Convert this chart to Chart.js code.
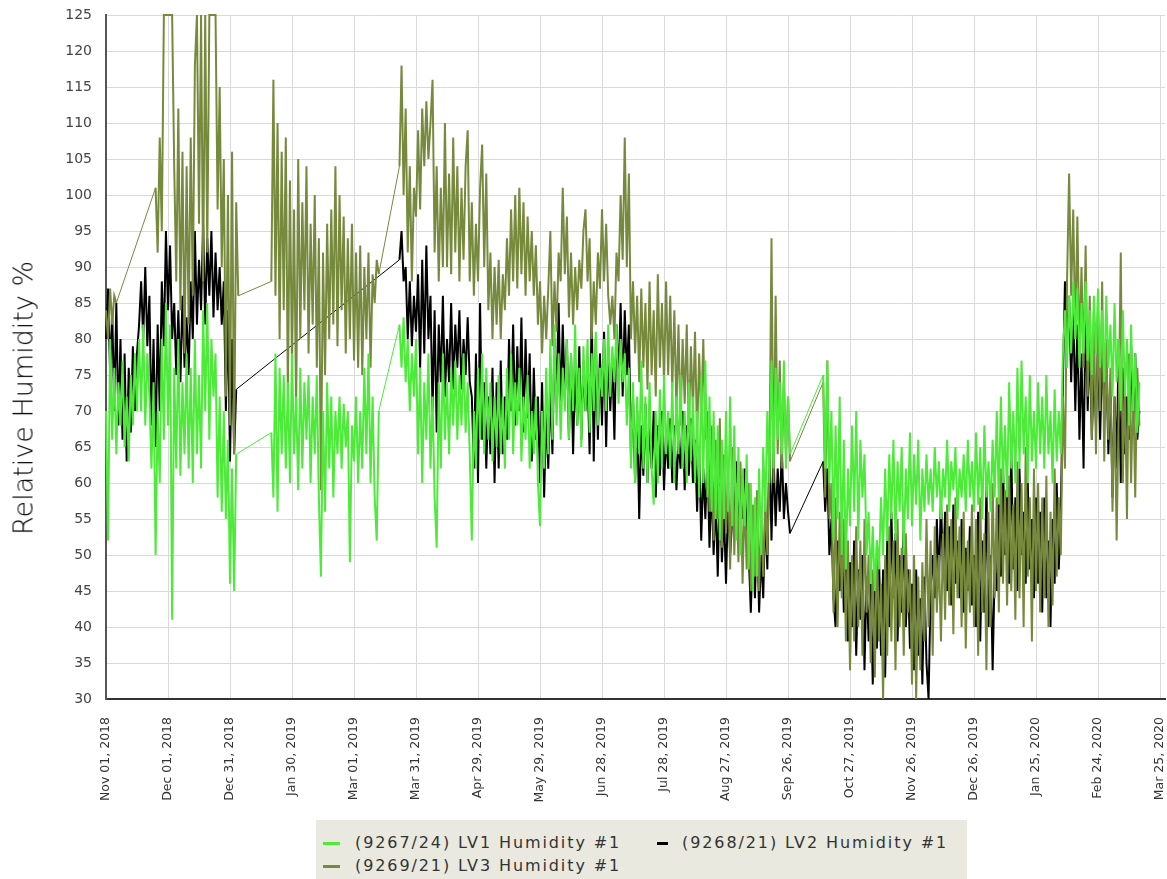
<!DOCTYPE html>
<html>
<head>
<meta charset="utf-8">
<script src="https://cdn.jsdelivr.net/npm/chart.js@4.4.0/dist/chart.umd.min.js"></script>
<style>
  html, body { margin: 0; padding: 0; background: #fff; }
  #wrap { position: relative; width: 1167px; height: 879px; }
  #yTitle {
    position: absolute; left: 23px; top: 398px;
    transform: translate(-50%, -50%) rotate(-90deg);
    font: 300 27px 'DejaVu Sans', sans-serif; color: #000; white-space: nowrap;
  }
  #legend {
    position: absolute; left: 316px; top: 820px; width: 651px; height: 59px;
    background: #e9e9df; font: 16px 'DejaVu Sans', sans-serif; color: #333;
  }
  .dash { position: absolute; height: 3px; }
  .lbl { position: absolute; white-space: nowrap; letter-spacing: 1.9px; line-height: 18px; }
</style>
</head>
<body>
<div id="wrap">
  <canvas id="myChart"></canvas>
  <div id="yTitle">Relative Humidity %</div>
  <div id="legend"></div>
</div>
<script>
// tick labels, one every 30 days from Nov 01, 2018
const tickLabels = ['Nov 01, 2018', 'Dec 01, 2018', 'Dec 31, 2018', 'Jan 30, 2019', 'Mar 01, 2019',
  'Mar 31, 2019', 'Apr 29, 2019', 'May 29, 2019', 'Jun 28, 2019', 'Jul 28, 2019', 'Aug 27, 2019',
  'Sep 26, 2019', 'Oct 27, 2019', 'Nov 26, 2019', 'Dec 26, 2019', 'Jan 25, 2020', 'Feb 24, 2020', 'Mar 25, 2020'];

const seriesNames = ['(9267/24) LV1 Humidity #1', '(9268/21) LV2 Humidity #1', '(9269/21) LV3 Humidity #1'];

// data comes in runs of daily readings; a run starts at the given day (days since Nov 01, 2018)
const lv1Starts = [0, 80, 142, 347];
const lv1A = [70,52,80,66,76,64,74,68,77,65, 72,63,75,68,78,70,80,70,82,68, 78,72,62,74,50,70,60,80,66,85,
  68,82,41,76,62,80,61,74,64,78, 62,76,60,80,64,75,62,84,70,85, 66,80,72,78,58,72,56,70,55,66, 46,62,45,64];
const lv1B = [67,58,78,56,76,64,75,62,74,60, 78,64,72,59,76,62,74,66,75,60, 72,64,75,58,47,70,56,74,62,72,
  58,70,64,72,62,71,65,70,49,68, 63,72,60,70,62,76,64,78,60,72, 58,52,70];
const lv1C = [82,76,83,74,80,70,78,72,80,64, 76,60,74,66,78,62,72,58,51,74, 62,78,66,74,64,76,68,77,66,75,
  68,78,67,74,64,52,70,62,76,66, 78,64,76,66,74,63,72,65,75,64, 72,62,76,66,78,64,74,68,76,63,
  72,66,75,62,70,64,72,60,54,70, 62,76,64,80,66,82,68,78,66,76, 70,80,66,78,70,82,68,76,65,79,
  70,80,67,78,70,81,68,76,72,80, 70,82,72,79,74,82,71,80,74,78, 68,76,62,74,60,72,64,77,62,72,
  60,74,62,57,70,60,73,62,75,64, 70,62,74,60,72,64,75,62,70,60, 74,63,72,60,70,58,75,60,77,58,
  72,56,70,55,68,52,66,55,70,56, 72,54,68,52,65,50,62,54,64,48, 60,45,58,47,62,50,65,56,70,60,
  77,62,76,66,74,64,77,62,72,64];
const lv1D = [75,62,77,60,70,52,68,55,72,50, 66,48,62,54,68,56,70,52,66,58, 64,50,56,46,54,45,52,48,58,50,
  62,52,64,55,66,52,63,56,65,50, 62,55,67,54,64,57,66,52,62,56, 64,57,62,56,65,58,63,55,62,58,
  66,56,63,59,65,55,62,58,64,56, 66,58,63,56,67,57,65,55,68,58, 63,56,66,58,70,57,72,60,68,58,
  74,62,70,60,76,62,77,64,72,60, 75,63,70,62,74,64,72,62,75,64, 70,60,73,63,70,64,78,84,76,86,
  78,88,80,87,76,85,78,88,77,84, 75,86,78,87,76,84,74,86,76,82, 72,85,74,80,70,84,72,80,68,82,
  70,78,67,74];

const lv2Starts = [0, 142, 347];
const lv2A = [80,87,75,84,70,85,68,80,66,78, 63,76,67,79,70,78,82,88,80,90, 79,86,68,80,65,82,70,88,79,95,
  84,93,80,85,75,84,74,86,76,83, 75,88,80,95,82,91,84,96,82,94, 86,95,83,92,84,90,82,88,70,84, 63,80,64,73];
const lv2B = [91,95,88,90,80,88,79,86,81,89, 76,91,78,93,80,86,70,84,67,82, 74,86,72,80,74,85,73,82,76,84,
  73,80,75,83,74,72,62,78,60,85, 66,74,62,72,64,76,60,74,62,77, 64,72,66,80,70,82,68,79,70,83,
  67,80,69,78,63,76,66,72,60,74, 58,70,62,73,64,80,72,85,70,82, 72,80,66,78,64,76,68,79,66,77,
  70,75,64,84,63,80,66,78,68,81, 65,79,70,77,66,82,74,85,72,84, 75,82,64,72,60,70,55,68,61,71,
  60,69,62,70,58,68,61,70,59,67, 62,69,60,68,59,66,62,70,59,68, 61,69,60,66,56,65,52,62,55,64,
  51,60,50,58,47,60,49,56,46,58, 50,55,54,63,52,61,55,62,53,50, 42,52,44,55,42,50,44,56,48,66,
  52,64,54,62,56,65,55,60,56,53];
const lv2C = [63,56,62,50,55,44,40,52,45,54, 42,50,38,49,40,52,36,48,41,50, 34,47,38,46,32,45,37,50,36,48,
  33,52,40,56,44,53,38,50,42,55, 40,48,37,46,34,48,36,44,32,47, 35,30,45,50,44,55,46,58,47,56,
  45,54,43,57,46,52,44,55,42,51, 45,54,43,50,40,56,38,52,42,60, 40,50,34,48,45,58,47,63,50,60,
  46,65,48,58,45,62,50,56,46,60, 48,55,44,58,46,56,42,58,44,52, 40,55,46,60,48,56,74,88,80,86,
  74,84,70,82,66,78,62,85,70,80, 66,76,68,80,66,78,70,77,64,74, 58,72,62,80,60,76,64,72,66,79,
  68,78,66,70];

const lv3Starts = [0, 24, 80, 142, 347];
const lv3A = [84,80,87,82,86,85];
const lv3B = [101,92,108,95,125,125,125,125,125, 104,88,112,84,106,78,104,82,108,86,118,125,
  96,125,88,125,92,125,125,125,125, 98,115,90,105,72,100,68,106,64,99, 86];
const lv3C = [88,116,86,110,80,106,84,108,72,102, 76,98,70,105,80,99,84,104,78,96, 82,100,76,94,59,92,75,96,80,98,
  82,104,79,100,84,97,78,94,80,96, 77,92,76,93,75,90,80,92,76,89, 85,91,89];
const lv3D = [104,118,100,112,92,104,88,101,97,109, 98,112,104,113,105,110,116,92,104,88, 101,90,110,90,103,89,108,92,104,88,
  101,91,104,109,88,99,86,96,88,101, 107,90,103,84,92,80,90,82,91,80, 89,84,94,86,98,88,100,87,101,89,
  99,86,97,88,95,86,93,82,88,78, 86,80,87,95,79,88,81,92,88,101, 89,97,83,92,82,90,84,91,87,95,
  98,88,94,80,88,82,92,87,98,88, 96,86,82,86,80,92,88,100,91,108, 90,103,80,88,78,86,74,87,76,85,
  73,88,75,84,72,89,76,85,74,88, 75,86,73,84,70,82,68,80,71,82, 67,79,70,81,66,78,69,80,66,70,
  56,68,52,66,55,69,51,64,53,62, 48,65,50,60,49,63,46,58,48,60, 45,57,47,59,45,56,47,58,50,62,
  94,60,86,64,77,62,74,64,72,63];
const lv3E = [74,58,77,55,60,42,58,40,56,44, 55,38,52,34,50,38,54,40,52,36, 55,42,50,35,48,33,52,38,46,30,
  50,36,54,38,52,34,55,40,51,36, 53,42,48,32,50,30,47,34,49,38, 55,40,52,36,54,42,50,38,53,41,
  57,43,55,39,58,44,54,40,56,37, 52,42,57,40,55,36,58,42,53,34, 56,40,60,44,58,42,62,46,59,43,
  61,45,57,41,63,44,60,40,65,47, 58,38,62,45,60,42,58,44,61,40, 56,43,62,47,58,50,72,62,88,103,
  86,98,80,97,78,90,76,93,72,86, 66,84,64,82,70,88,63,80,66,76, 56,72,52,70,92,60,75,55,78,60,
  74,58,76,68];

function toPoints(starts, runs) {
  const pts = [];
  runs.forEach((run, k) => run.forEach((v, i) => pts.push({ x: starts[k] + i, y: v })));
  return pts;
}

const colors = ['#4dea3a', '#000000', '#76893c'];

// green drawn on top, black underneath; links across missing days are thin
const datasets = [
  { label: seriesNames[0], data: toPoints(lv1Starts, [lv1A, lv1B, lv1C, lv1D]), borderColor: colors[0], order: 0 },
  { label: seriesNames[1], data: toPoints(lv2Starts, [lv2A, lv2B, lv2C]), borderColor: colors[1], order: 2 },
  { label: seriesNames[2], data: toPoints(lv3Starts, [lv3A, lv3B, lv3C, lv3D, lv3E]), borderColor: colors[2], order: 1 }
].map(d => Object.assign(d, {
  borderWidth: 2, pointRadius: 0, tension: 0, fill: false, clip: 2,
  segment: { borderWidth: c => (c.p1.parsed.x - c.p0.parsed.x > 1.5 ? 1 : 2) }
}));

const ctx = document.getElementById('myChart').getContext('2d');
const chart = new Chart(ctx, {
  type: 'line',
  data: { datasets: datasets },
  options: {
    responsive: true,
    maintainAspectRatio: false,
    animation: false,
    layout: { padding: { top: 15, right: 2, left: 0, bottom: 0 } },
    plugins: { legend: { display: false }, tooltip: { enabled: false } },
    scales: {
      x: {
        type: 'linear', min: 0, max: 512.4,
        afterFit: s => { s.height = 180; s.paddingLeft = 0; s.paddingRight = 0; },
        border: { color: '#333', width: 2 },
        grid: { color: '#d9d9d9', drawTicks: false },
        ticks: {
          stepSize: 30, includeBounds: false, autoSkip: false, maxRotation: 90, minRotation: 90,
          padding: 18, color: '#333', font: { family: 'DejaVu Sans', size: 12.5 },
          callback: v => tickLabels[Math.round(v / 30)] || ''
        }
      },
      y: {
        min: 30, max: 125,
        afterFit: s => { s.width = 106; s.paddingTop = 0; s.paddingBottom = 0; },
        border: { color: '#555', width: 2 },
        grid: { color: '#d9d9d9', drawTicks: false },
        ticks: { stepSize: 5, padding: 14, color: '#444', font: { family: 'DejaVu Sans', size: 14 } }
      }
    }
  }
});

// legend built from the chart's own datasets
const legendSlots = [[7, 17, 39, 23], [341, 11, 366, 23], [7, 17, 39, 46]];
const legend = document.getElementById('legend');
chart.data.datasets.forEach((ds, i) => {
  const [dx, dw, tx, cy] = legendSlots[i];
  const dash = document.createElement('div');
  dash.className = 'dash';
  dash.style.cssText = `left:${dx}px;width:${dw}px;top:${cy - 1}px;background:${ds.borderColor}`;
  const lbl = document.createElement('div');
  lbl.className = 'lbl';
  lbl.style.cssText = `left:${tx}px;top:${cy - 9}px`;
  lbl.textContent = ds.label;
  legend.appendChild(dash);
  legend.appendChild(lbl);
});
</script>
</body>
</html>
